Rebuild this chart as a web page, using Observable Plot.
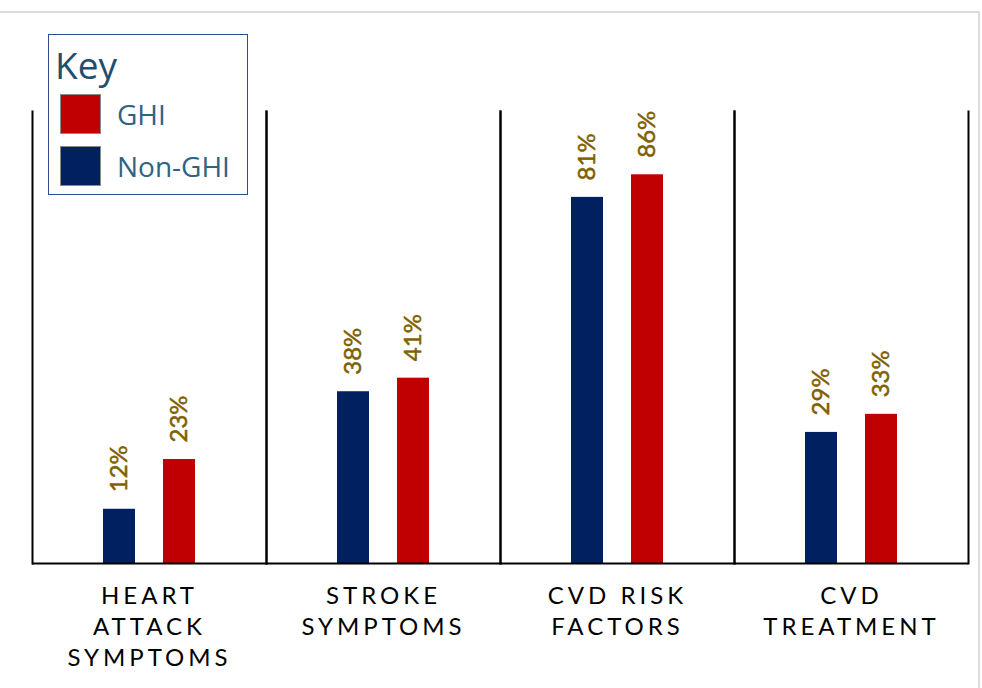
<!DOCTYPE html>
<html>
<head>
<meta charset="utf-8">
<script src="https://cdn.jsdelivr.net/npm/d3@7"></script>
<script src="https://cdn.jsdelivr.net/npm/@observablehq/plot@0.6"></script>
<style>
  body { margin: 0; background: #fff; font-family: Lato, "Open Sans", sans-serif; }
  #wrap { position: relative; width: 978px; height: 675px; margin-top: 11px; border-top: 2px solid #dcdcdc; border-right: 2px solid #dcdcdc; }
  #chart svg g[aria-label="fx-axis tick label"] text { letter-spacing: 4px; }
  #legend { position: absolute; left: 48px; top: 21px; width: 198px; height: 159px; border: 1.5px solid #2f4d8f; background: #fff; }
  #legend .key { position: absolute; left: 6px; top: 4px; font-size: 37px; color: #1f4e6e; font-family: "Open Sans", sans-serif; }
  #legend .item { position: absolute; left: 11px; height: 41px; display: flex; align-items: center; }
  #legend .sw { width: 41px; height: 40px; border: 1px solid #8a8a8a; box-sizing: border-box; }
  #legend .lab { margin-left: 16px; font-size: 28px; color: #2e6384; font-family: "Open Sans", sans-serif; }
</style>
</head>
<body>
<div id="wrap">
  <div id="chart"></div>
  <div id="legend"><div class="key">Key</div></div>
</div>
<script>
const categories = ["HEART\nATTACK\nSYMPTOMS", "STROKE\nSYMPTOMS", "CVD RISK\nFACTORS", "CVD\nTREATMENT"];
const seriesNames = ["Non-GHI", "GHI"];
const legendOrder = ["GHI", "Non-GHI"];
const nonGhiValues = [12, 38, 81, 29];
const ghiValues = [23, 41, 86, 33];
const seriesColors = ["#002060", "#c00000"];
const labelColor = "#7f6000";

const data = [];
categories.forEach((c, i) => {
  data.push({category: c, series: "Non-GHI", value: nonGhiValues[i]});
  data.push({category: c, series: "GHI", value: ghiValues[i]});
});

const chart = Plot.plot({
  width: 978,
  height: 675,
  marginLeft: 32,
  marginRight: 10,
  marginTop: 98,
  marginBottom: 125,
  style: {fontFamily: "Lato, 'Open Sans', sans-serif", background: "#fff"},
  fx: {domain: categories, paddingInner: 0, paddingOuter: 0},
  x: {domain: seriesNames, paddingInner: 0.475, paddingOuter: 1.156, axis: null},
  y: {domain: [0, 100], axis: null},
  color: {domain: seriesNames, range: seriesColors},
  marks: [
    Plot.barY(data, {fx: "category", x: "series", y: "value", fill: "series"}),
    Plot.text(data, {fx: "category", x: "series", y: "value", text: d => d.value + "%", rotate: -90, textAnchor: "start", dy: -17, fontSize: 24, fill: labelColor, stroke: labelColor, strokeWidth: 0.5}),
    Plot.frame({anchor: "left", stroke: "#000", strokeWidth: 2}),
    Plot.frame({anchor: "right", stroke: "#000", strokeWidth: 2}),
    Plot.ruleY([0], {stroke: "#000", strokeWidth: 2}),
    Plot.axisFx({anchor: "bottom", tickSize: 0, tickPadding: 18, fontSize: 24, lineHeight: 1.3, lineAnchor: "top", fill: "#000", stroke: "#000", strokeWidth: 0.3, label: null})
  ]
});
document.getElementById("chart").appendChild(chart);

const legend = document.getElementById("legend");
legendOrder.forEach((name, i) => {
  const item = document.createElement("div");
  item.className = "item";
  item.style.top = (58 + i * 52) + "px";
  const sw = document.createElement("div");
  sw.className = "sw";
  sw.style.background = seriesColors[seriesNames.indexOf(name)];
  const lab = document.createElement("span");
  lab.className = "lab";
  lab.textContent = name;
  item.appendChild(sw);
  item.appendChild(lab);
  legend.appendChild(item);
});
</script>
</body>
</html>
